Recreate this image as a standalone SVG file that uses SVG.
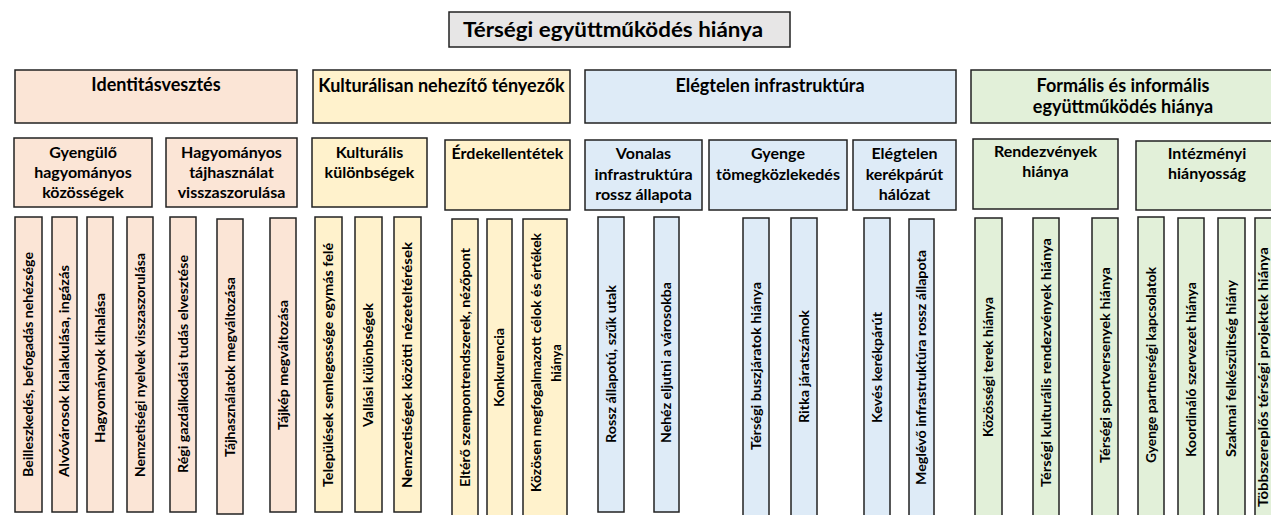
<svg xmlns="http://www.w3.org/2000/svg" width="1271" height="515" viewBox="0 0 1271 515">
<style>
rect{stroke:#222;stroke-width:1.5}
text{font-family:Lato,"Liberation Sans",sans-serif;font-weight:bold;fill:#000}
.t0{font-size:20px;text-anchor:middle}
.t1{font-size:18px;text-anchor:middle}
.t2{font-size:16px;text-anchor:middle}
.tv{font-size:13px;text-anchor:middle}
.gray{fill:#e7e6e6}
.pe{fill:#fbe5d6}
.ye{fill:#fff2cc}
.bl{fill:#deebf7}
.gr{fill:#e2f0d9}
</style>
<rect width="1271" height="515" fill="#fff" style="stroke:none"/>
<g id="title">
<rect class="gray" x="449" y="12" width="341" height="35"/>
<text class="t0" x="613" y="37" textLength="300" lengthAdjust="spacingAndGlyphs">Térségi együttműködés hiánya</text>
</g>
<g id="identitasvesztes">
<rect class="pe" x="15" y="70" width="282" height="53"/>
<text class="t1" x="156" y="91">Identitásvesztés</text>
</g>
<g id="kulturalisan">
<rect class="ye" x="313" y="70" width="257" height="53"/>
<text class="t1" x="441.5" y="92">Kulturálisan nehezítő tényezők</text>
</g>
<g id="elegtelen-infra">
<rect class="bl" x="585" y="70" width="371" height="53"/>
<text class="t1" x="770" y="92">Elégtelen infrastruktúra</text>
</g>
<g id="formalis">
<rect class="gr" x="971" y="70" width="306" height="53"/>
<text class="t1" x="1123" y="92">Formális és informális</text>
<text class="t1" x="1123" y="113">együttműködés hiánya</text>
</g>
<g id="gyengulo">
<rect class="pe" x="14" y="138" width="138" height="69"/>
<text class="t2" x="83" y="158">Gyengülő</text>
<text class="t2" x="83" y="178">hagyományos</text>
<text class="t2" x="83" y="198">közösségek</text>
</g>
<g id="hagyomanyos-tajhasznalat">
<rect class="pe" x="166" y="138" width="131" height="69"/>
<text class="t2" x="231.5" y="158">Hagyományos</text>
<text class="t2" x="231.5" y="178">tájhasználat</text>
<text class="t2" x="231.5" y="198">visszaszorulása</text>
</g>
<g id="kulturalis-kulonbsegek">
<rect class="ye" x="312" y="138" width="115" height="69"/>
<text class="t2" x="369.5" y="158">Kulturális</text>
<text class="t2" x="369.5" y="178">különbségek</text>
</g>
<g id="erdekellentetek">
<rect class="ye" x="445" y="140" width="125" height="70"/>
<text class="t2" x="507.5" y="159">Érdekellentétek</text>
</g>
<g id="vonalas">
<rect class="bl" x="585" y="140" width="117" height="70"/>
<text class="t2" x="643.5" y="159">Vonalas</text>
<text class="t2" x="643.5" y="180">infrastruktúra</text>
<text class="t2" x="643.5" y="200">rossz állapota</text>
</g>
<g id="gyenge-tomegkozlekedes">
<rect class="bl" x="709" y="140" width="138" height="70"/>
<text class="t2" x="778" y="159">Gyenge</text>
<text class="t2" x="778" y="180">tömegközlekedés</text>
</g>
<g id="kerekparut">
<rect class="bl" x="853" y="140" width="103" height="70"/>
<text class="t2" x="904.5" y="159">Elégtelen</text>
<text class="t2" x="904.5" y="180">kerékpárút</text>
<text class="t2" x="904.5" y="200">hálózat</text>
</g>
<g id="rendezvenyek">
<rect class="gr" x="973" y="139" width="145" height="70"/>
<text class="t2" x="1045.5" y="157">Rendezvények</text>
<text class="t2" x="1045.5" y="177">hiánya</text>
</g>
<g id="intezmenyi">
<rect class="gr" x="1136" y="141" width="142" height="69"/>
<text class="t2" x="1207" y="159">Intézményi</text>
<text class="t2" x="1207" y="179">hiányosság</text>
</g>
<g id="c1"><rect class="pe" x="15" y="217" width="27" height="295"/><text class="tv" transform="translate(28.5,364.5) rotate(-90)" dy="0.35em" textLength="225" lengthAdjust="spacingAndGlyphs">Beilleszkedés, befogadás nehézsége</text></g>
<g id="c2"><rect class="pe" x="52" y="217" width="25" height="295"/><text class="tv" transform="translate(64.5,371) rotate(-90)" dy="0.35em" textLength="212" lengthAdjust="spacingAndGlyphs">Alvóvárosok kialakulása, ingázás</text></g>
<g id="c3"><rect class="pe" x="87" y="217" width="26" height="295"/><text class="tv" transform="translate(100,368) rotate(-90)" dy="0.35em" textLength="150" lengthAdjust="spacingAndGlyphs">Hagyományok kihalása</text></g>
<g id="c4"><rect class="pe" x="127" y="217" width="26" height="295"/><text class="tv" transform="translate(140,365) rotate(-90)" dy="0.35em" textLength="224" lengthAdjust="spacingAndGlyphs">Nemzetiségi nyelvek visszaszorulása</text></g>
<g id="c5"><rect class="pe" x="170" y="217" width="26" height="295"/><text class="tv" transform="translate(183,364) rotate(-90)" dy="0.35em" textLength="218" lengthAdjust="spacingAndGlyphs">Régi gazdálkodási tudás elvesztése</text></g>
<g id="c6"><rect class="pe" x="217" y="219" width="26" height="295"/><text class="tv" transform="translate(230,367) rotate(-90)" dy="0.35em" textLength="180" lengthAdjust="spacingAndGlyphs">Tájhasználatok megváltozása</text></g>
<g id="c7"><rect class="pe" x="270" y="218" width="26" height="294"/><text class="tv" transform="translate(283,365) rotate(-90)" dy="0.35em" textLength="130" lengthAdjust="spacingAndGlyphs">Tájkép megváltozása</text></g>
<g id="c8"><rect class="ye" x="315" y="217" width="27" height="295"/><text class="tv" transform="translate(328.5,365) rotate(-90)" dy="0.35em" textLength="244" lengthAdjust="spacingAndGlyphs">Települések semlegessége egymás felé</text></g>
<g id="c9"><rect class="ye" x="355" y="217" width="27" height="295"/><text class="tv" transform="translate(368.5,365) rotate(-90)" dy="0.35em" textLength="124" lengthAdjust="spacingAndGlyphs">Vallási különbségek</text></g>
<g id="c10"><rect class="ye" x="394" y="217" width="27" height="295"/><text class="tv" transform="translate(407.5,365) rotate(-90)" dy="0.35em" textLength="246" lengthAdjust="spacingAndGlyphs">Nemzetiségek közötti nézeteltérések</text></g>
<g id="c11"><rect class="ye" x="452" y="219" width="26" height="301"/><text class="tv" transform="translate(465,367.5) rotate(-90)" dy="0.35em" textLength="239" lengthAdjust="spacingAndGlyphs">Eltérő szempontrendszerek, nézőpont</text></g>
<g id="c12"><rect class="ye" x="487" y="219" width="25" height="301"/><text class="tv" transform="translate(499.5,367.5) rotate(-90)" dy="0.35em" textLength="79" lengthAdjust="spacingAndGlyphs">Konkurencia</text></g>
<g id="c13"><rect class="ye" x="523" y="219" width="44" height="301"/><text class="tv" transform="translate(536,362.5) rotate(-90)" dy="0.35em" textLength="259" lengthAdjust="spacingAndGlyphs">Közösen megfogalmazott célok és értékek</text><text class="tv" transform="translate(556.5,363) rotate(-90)" dy="0.35em">hiánya</text></g>
<g id="c14"><rect class="bl" x="598" y="217" width="26" height="295"/><text class="tv" transform="translate(611,364) rotate(-90)" dy="0.35em" textLength="158" lengthAdjust="spacingAndGlyphs">Rossz állapotú, szűk utak</text></g>
<g id="c15"><rect class="bl" x="654" y="217" width="25" height="295"/><text class="tv" transform="translate(666.5,362.5) rotate(-90)" dy="0.35em" textLength="161" lengthAdjust="spacingAndGlyphs">Nehéz eljutni a városokba</text></g>
<g id="c16"><rect class="bl" x="743" y="218" width="26" height="302"/><text class="tv" transform="translate(756,366) rotate(-90)" dy="0.35em" textLength="168" lengthAdjust="spacingAndGlyphs">Térségi buszjáratok hiánya</text></g>
<g id="c17"><rect class="bl" x="791" y="218" width="26" height="302"/><text class="tv" transform="translate(804,366.5) rotate(-90)" dy="0.35em" textLength="113" lengthAdjust="spacingAndGlyphs">Ritka járatszámok</text></g>
<g id="c18"><rect class="bl" x="864" y="218" width="26" height="302"/><text class="tv" transform="translate(877,367.5) rotate(-90)" dy="0.35em" textLength="111" lengthAdjust="spacingAndGlyphs">Kevés kerékpárút</text></g>
<g id="c19"><rect class="bl" x="909" y="219" width="25" height="301"/><text class="tv" transform="translate(921.5,367.5) rotate(-90)" dy="0.35em" textLength="235" lengthAdjust="spacingAndGlyphs">Meglévő infrastruktúra rossz állapota</text></g>
<g id="c20"><rect class="gr" x="975" y="218" width="27" height="302"/><text class="tv" transform="translate(988.5,367) rotate(-90)" dy="0.35em" textLength="140" lengthAdjust="spacingAndGlyphs">Közösségi terek hiánya</text></g>
<g id="c21"><rect class="gr" x="1033" y="218" width="26" height="302"/><text class="tv" transform="translate(1046,362.5) rotate(-90)" dy="0.35em" textLength="249" lengthAdjust="spacingAndGlyphs">Térségi kulturális rendezvények hiánya</text></g>
<g id="c22"><rect class="gr" x="1092" y="218" width="26" height="302"/><text class="tv" transform="translate(1105,365) rotate(-90)" dy="0.35em" textLength="196" lengthAdjust="spacingAndGlyphs">Térségi sportversenyek hiánya</text></g>
<g id="c23"><rect class="gr" x="1138" y="217" width="26" height="303"/><text class="tv" transform="translate(1151,365) rotate(-90)" dy="0.35em" textLength="196" lengthAdjust="spacingAndGlyphs">Gyenge partnerségi kapcsolatok</text></g>
<g id="c24"><rect class="gr" x="1178" y="218" width="26" height="302"/><text class="tv" transform="translate(1191,369.5) rotate(-90)" dy="0.35em" textLength="175" lengthAdjust="spacingAndGlyphs">Koordináló szervezet hiánya</text></g>
<g id="c25"><rect class="gr" x="1218" y="218" width="27" height="302"/><text class="tv" transform="translate(1231.5,368.5) rotate(-90)" dy="0.35em" textLength="177" lengthAdjust="spacingAndGlyphs">Szakmai felkészültség hiány</text></g>
<g id="c26"><rect class="gr" x="1255" y="218" width="27" height="302"/><text class="tv" transform="translate(1263.5,377) rotate(-90)" dy="0.35em" textLength="260" lengthAdjust="spacingAndGlyphs">Többszereplős térségi projektek hiánya</text></g>
<g id="connectors"></g>
</svg>
